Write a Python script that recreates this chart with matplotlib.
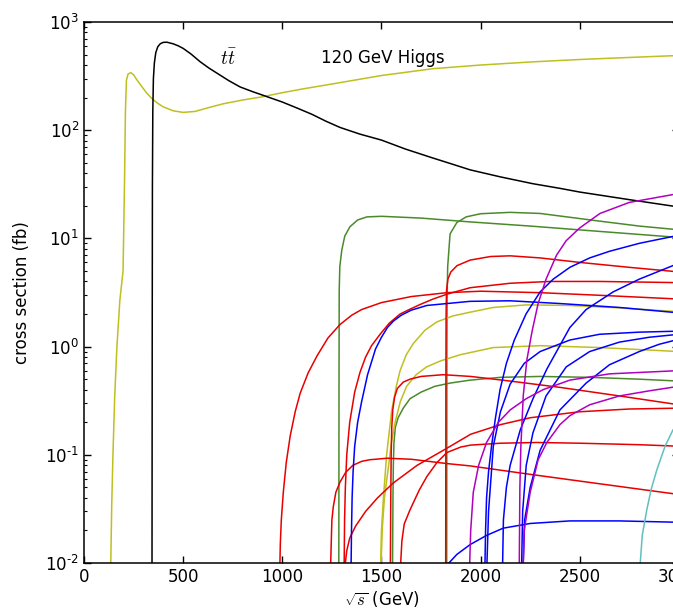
import matplotlib
matplotlib.use("Agg")
import matplotlib.pyplot as plt
from matplotlib.ticker import FuncFormatter

plt.rcParams['mathtext.fontset'] = 'cm'
plt.rcParams['font.size'] = 12

# values: sqrt(s) in GeV, cross section in fb
higgs_x = [135, 140, 146, 155, 166, 181, 197, 204, 209, 214, 222, 236, 250, 265, 290, 315, 341, 370,
           400, 450, 500, 560, 620, 700, 800, 903, 1000, 1100, 1255, 1500, 1760, 2000, 2264, 2500,
           2750, 3000]
higgs_y = [0.01, 0.035, 0.1, 0.35, 1.0, 2.7, 5.0, 30, 150, 290, 330, 340, 325, 295, 255, 222, 197, 178,
           164, 151, 146, 149, 160, 175, 190, 204, 222, 240, 268, 320, 370, 400, 428, 450,
           470, 490]

tt_x = [343, 344, 345, 347, 350, 355, 362, 372, 385, 400, 418, 450, 475, 500, 540, 585, 630, 680,
        730, 787, 850, 913, 1000, 1075, 1150, 1220, 1291, 1391, 1500, 1620, 1750, 1850, 1947, 2100,
        2264, 2400, 2500, 2750, 3000]
tt_y = [0.01, 1, 30, 150, 300, 420, 520, 590, 630, 648, 650, 628, 602, 570, 505, 430, 375, 328,
        287, 251, 227, 207, 182, 160, 140, 121, 106, 92, 81, 67, 56, 49, 43, 37,
        32, 29, 26.8, 22.8, 19.5]

green_a_x = [1285, 1286, 1287, 1290, 1300, 1315, 1341, 1380, 1427, 1500, 1700, 1947, 2250, 2600, 3000]
green_a_y = [0.01, 0.5, 3.3, 5.5, 7.8, 10.5, 12.8, 14.8, 15.8, 16.0, 15.4, 14.2, 13.0, 11.6, 10.2]
green_b_x = [1829, 1830, 1831, 1834, 1846, 1880, 1927, 2000, 2149, 2300, 2618, 2800, 3000]
green_b_y = [0.01, 1.0, 2.7, 5.5, 11.0, 14.0, 15.8, 16.9, 17.4, 17.0, 14.3, 13.0, 12.0]
green_c_x = [1556, 1558, 1560, 1563, 1570, 1584, 1610, 1644, 1700, 1770, 1846, 1947, 2100, 2300,
             2550, 2800, 3000]
green_c_y = [0.01, 0.04, 0.08, 0.13, 0.18, 0.22, 0.27, 0.33, 0.38, 0.43, 0.46, 0.49, 0.52, 0.53,
             0.52, 0.50, 0.48]

yellow_b_x = [1496, 1500, 1510, 1526, 1552, 1575, 1594, 1625, 1661, 1720, 1779, 1860, 1947, 2064,
              2232, 2450, 2700, 3000]
yellow_b_y = [0.01, 0.02, 0.04, 0.1, 0.26, 0.43, 0.6, 0.84, 1.07, 1.42, 1.69, 1.92, 2.08, 2.3,
              2.43, 2.4, 2.28, 2.1]
yellow_c_x = [1498, 1505, 1515, 1535, 1550, 1569, 1595, 1627, 1675, 1728, 1800, 1896, 2064, 2300,
              2600, 3000]
yellow_c_y = [0.01, 0.022, 0.04, 0.077, 0.13, 0.2, 0.31, 0.43, 0.55, 0.65, 0.74, 0.84, 0.98, 1.02,
              0.98, 0.9]

red_1_x = [988, 990, 995, 1005, 1020, 1040, 1065, 1090, 1130, 1175, 1230, 1291, 1350, 1400, 1500,
           1650, 1830, 2000, 2300, 2600, 3000]
red_1_y = [0.01, 0.015, 0.025, 0.045, 0.085, 0.15, 0.25, 0.37, 0.57, 0.82, 1.2, 1.6, 1.95, 2.2, 2.55,
           2.9, 3.15, 3.25, 3.15, 2.98, 2.75]
red_2_x = [1244, 1250, 1257, 1270, 1291, 1320, 1356, 1400, 1440, 1528, 1650, 1830, 1947, 2250, 2600, 3000]
red_2_y = [0.01, 0.025, 0.033, 0.045, 0.056, 0.069, 0.08, 0.087, 0.09, 0.093, 0.091, 0.083, 0.079,
           0.066, 0.054, 0.043]
red_3_x = [1312, 1314, 1318, 1325, 1340, 1365, 1392, 1420, 1450, 1493, 1540, 1594, 1640, 1695, 1760,
           1830, 1947, 2150, 2350, 2600, 2800, 3000]
red_3_y = [0.01, 0.025, 0.05, 0.1, 0.2, 0.38, 0.58, 0.8, 1.02, 1.3, 1.65, 2.0, 2.2, 2.45, 2.75,
           3.05, 3.5, 3.85, 4.0, 4.0, 3.95, 3.9]
red_4_x = [1318, 1325, 1340, 1370, 1420, 1480, 1560, 1680, 1830, 1950, 2100, 2250, 2500, 2750, 3000]
red_4_y = [0.01, 0.013, 0.017, 0.022, 0.03, 0.04, 0.055, 0.08, 0.115, 0.155, 0.19, 0.22, 0.25,
           0.265, 0.27]
red_5_x = [1597, 1603, 1615, 1644, 1690, 1729, 1780, 1830, 1900, 1950, 2100, 2283, 2500, 2800, 3000]
red_5_y = [0.01, 0.016, 0.023, 0.031, 0.047, 0.063, 0.085, 0.105, 0.118, 0.123, 0.128, 0.13, 0.128,
           0.124, 0.12]
red_6_x = [1545, 1547, 1549, 1552, 1557, 1566, 1580, 1610, 1644, 1700, 1811, 1950, 2150, 2400, 2700, 3000]
red_6_y = [0.01, 0.04, 0.1, 0.18, 0.26, 0.34, 0.41, 0.47, 0.5, 0.53, 0.55, 0.53, 0.48, 0.42, 0.35, 0.29]
red_7_x = [1824, 1825, 1826, 1828, 1835, 1850, 1881, 1947, 2050, 2149, 2300, 2500, 2750, 3000]
red_7_y = [0.01, 0.5, 2.0, 3.3, 4.2, 4.9, 5.6, 6.3, 6.8, 6.9, 6.6, 6.0, 5.4, 4.9]

blue_1_x = [1347, 1349, 1352, 1357, 1365, 1380, 1400, 1430, 1470, 1500, 1530, 1560, 1600, 1650, 1729,
            1947, 2150, 2400, 2700, 3000]
blue_1_y = [0.01, 0.02, 0.04, 0.07, 0.12, 0.2, 0.31, 0.55, 0.95, 1.22, 1.5, 1.72, 1.95, 2.17, 2.4,
            2.62, 2.65, 2.5, 2.3, 2.05]
blue_2_x = [1840, 1880, 1947, 2030, 2114, 2250, 2450, 2700, 3000]
blue_2_y = [0.01, 0.012, 0.0148, 0.018, 0.021, 0.0232, 0.0245, 0.0245, 0.0238]
blue_3_x = [2022, 2025, 2030, 2040, 2055, 2075, 2098, 2130, 2170, 2229, 2300, 2366, 2450, 2550,
            2650, 2800, 3000]
blue_3_y = [0.01, 0.02, 0.04, 0.07, 0.12, 0.22, 0.4, 0.7, 1.15, 2.0, 3.2, 4.2, 5.4, 6.6, 7.6, 9.0, 10.7]
blue_4_x = [2032, 2040, 2064, 2100, 2149, 2220, 2300, 2450, 2600, 2800, 3000]
blue_4_y = [0.01, 0.03, 0.12, 0.25, 0.45, 0.7, 0.9, 1.15, 1.3, 1.36, 1.39]
blue_5_x = [2111, 2115, 2130, 2149, 2200, 2264, 2334, 2450, 2532, 2668, 2800, 3000]
blue_5_y = [0.01, 0.025, 0.05, 0.08, 0.17, 0.33, 0.62, 1.5, 2.2, 3.2, 4.2, 5.9]
blue_6_x = [2207, 2212, 2230, 2264, 2330, 2432, 2550, 2700, 2850, 3000]
blue_6_y = [0.01, 0.03, 0.08, 0.16, 0.35, 0.65, 0.9, 1.1, 1.22, 1.3]
blue_7_x = [2215, 2222, 2250, 2300, 2400, 2532, 2650, 2800, 2900, 3000]
blue_7_y = [0.01, 0.025, 0.05, 0.11, 0.26, 0.46, 0.68, 0.9, 1.05, 1.17]

magenta_1_x = [1945, 1950, 1963, 1990, 2030, 2090, 2149, 2230, 2315, 2450, 2650, 3000]
magenta_1_y = [0.01, 0.02, 0.045, 0.08, 0.13, 0.2, 0.26, 0.33, 0.4, 0.49, 0.56, 0.6]
magenta_2_x = [2195, 2198, 2203, 2215, 2233, 2260, 2290, 2330, 2383, 2431, 2500, 2602, 2750, 3000]
magenta_2_y = [0.01, 0.05, 0.12, 0.35, 0.75, 1.4, 2.5, 4.2, 7.0, 9.5, 12.5, 17, 21.5, 26]
magenta_3_x = [2215, 2220, 2250, 2290, 2334, 2400, 2450, 2550, 2700, 2850, 3000]
magenta_3_y = [0.01, 0.02, 0.045, 0.09, 0.13, 0.19, 0.23, 0.29, 0.35, 0.39, 0.43]

cyan_x = [2805, 2815, 2838, 2860, 2888, 2930, 2970, 3000]
cyan_y = [0.01, 0.018, 0.031, 0.048, 0.072, 0.12, 0.17, 0.2]

y_ticks = [1e-2, 1e-1, 1e0, 1e1, 1e2, 1e3]
y_exps = ['-2', '-1', '0', '1', '2', '3']


def decade_label(val, pos):
    # plain hyphen in the exponent, like the reference
    for t, e in zip(y_ticks, y_exps):
        if abs(val - t) < t * 1e-6:
            return r'$\mathdefault{10^{%s}}$' % e.replace('-', '\u2010')
    return ''


fig = plt.figure(figsize=(6.73, 6.10), dpi=100, facecolor='white')
ax = fig.add_axes([0.1248, 0.077, 0.884, 0.887])

lw = 1.1
ax.plot(higgs_x, higgs_y, color='#bfbf20', lw=lw)
ax.plot(tt_x, tt_y, color='black', lw=lw)
for gx, gy in [(green_a_x, green_a_y), (green_b_x, green_b_y), (green_c_x, green_c_y)]:
    ax.plot(gx, gy, color='#4b8a2b', lw=lw)
for yx, yy in [(yellow_b_x, yellow_b_y), (yellow_c_x, yellow_c_y)]:
    ax.plot(yx, yy, color='#bfbf20', lw=lw)
for rx, ry in [(red_1_x, red_1_y), (red_2_x, red_2_y), (red_3_x, red_3_y), (red_4_x, red_4_y),
               (red_5_x, red_5_y), (red_6_x, red_6_y), (red_7_x, red_7_y)]:
    ax.plot(rx, ry, color='#e80000', lw=lw)
for bx, by in [(blue_1_x, blue_1_y), (blue_2_x, blue_2_y), (blue_3_x, blue_3_y), (blue_4_x, blue_4_y),
               (blue_5_x, blue_5_y), (blue_6_x, blue_6_y), (blue_7_x, blue_7_y)]:
    ax.plot(bx, by, color='#0000ff', lw=lw)
for mx, my in [(magenta_1_x, magenta_1_y), (magenta_2_x, magenta_2_y), (magenta_3_x, magenta_3_y)]:
    ax.plot(mx, my, color='#b000c0', lw=lw)
ax.plot(cyan_x, cyan_y, color='#60c0c0', lw=lw)

ax.set_yscale('log')
ax.set_xlim(0, 3000)
ax.set_ylim(1e-2, 1e3)
ax.set_xticks([0, 500, 1000, 1500, 2000, 2500, 3000])
ax.set_yticks(y_ticks)
ax.yaxis.set_major_formatter(FuncFormatter(decade_label))

ax.tick_params(which='both', direction='in', top=True, right=True, labelsize=12)
ax.tick_params(which='major', length=5, width=1)
ax.tick_params(which='minor', length=2.5, width=0.8)
for sp in ax.spines.values():
    sp.set_linewidth(1.1)

ax.text(726, 460, r'$t\bar{t}$', fontsize=14, ha='center', va='center')
ax.text(1195, 460, '120 GeV Higgs', fontsize=12, ha='left', va='center')

ax.set_xlabel(r'$\sqrt{s}$ (GeV)', fontsize=12, labelpad=2)
ax.set_ylabel('cross section (fb)', fontsize=12, labelpad=10)

fig.savefig('out.png', dpi=100, facecolor='white')
